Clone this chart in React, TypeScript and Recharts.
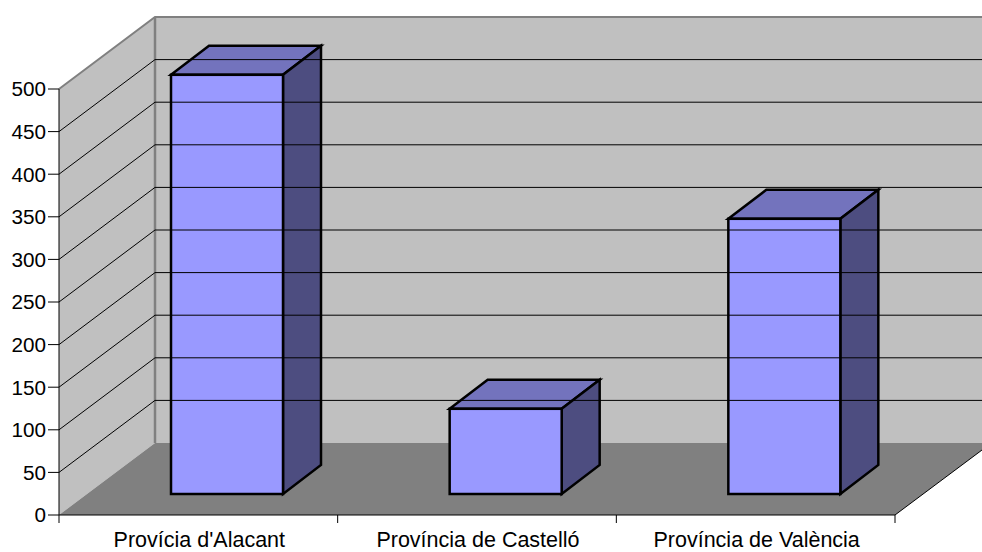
import { BarChart, Bar, XAxis, YAxis, ReferenceArea, ReferenceLine } from "recharts";

const categories = ["Provícia d'Alacant", "Província de Castelló", "Província de València"];
const values = [492, 100, 323];
const yTicks = [0, 50, 100, 150, 200, 250, 300, 350, 400, 450, 500];
const gridTicks = yTicks.slice(1);

const chartData = categories.map((name, i) => ({ name, value: values[i] }));

const WIDTH = 982;
const HEIGHT = 552;
const FONT = "'Liberation Sans', Arial, sans-serif";

// fake 3D projection: how far the back wall sits from the front plane
const WALL_DX = 96;
const WALL_DY = 72;
// bars stand part way into the floor
const BAR_SHIFT_X = 29;
const BAR_SHIFT_Y = 21;
const BAR_DX = 38;
const BAR_DY = 29;

const PLOT_WIDTH = 836;

function Walls({ x, y, width, height }: any) {
    const bottom = y + height;
    const right = x + width;
    return (
        <g>
            <rect x={x + WALL_DX} y={y - WALL_DY} width={WIDTH - x - WALL_DX} height={height} fill="#c0c0c0" />
            <polygon
                points={`${x},${y} ${x + WALL_DX},${y - WALL_DY} ${x + WALL_DX},${bottom - WALL_DY} ${x},${bottom}`}
                fill="#c0c0c0"
            />
            <polygon
                points={`${x},${bottom} ${x + WALL_DX},${bottom - WALL_DY} ${WIDTH},${bottom - WALL_DY} ${WIDTH},${bottom - 65} ${right},${bottom}`}
                fill="#808080"
            />
            <line x1={right} y1={bottom} x2={WIDTH} y2={bottom - 65} stroke="#000" strokeWidth={1} />
            <line
                x1={x + WALL_DX}
                y1={y - WALL_DY}
                x2={x + WALL_DX}
                y2={bottom - WALL_DY}
                stroke="#808080"
                strokeWidth={2.5}
            />
        </g>
    );
}

function WallEdges({ x1, y1 }: { x1: number; y1: number }) {
    return (
        <polyline
            points={`${x1},${y1} ${x1 + WALL_DX},${y1 - WALL_DY} ${WIDTH},${y1 - WALL_DY}`}
            fill="none"
            stroke="#808080"
            strokeWidth={2}
        />
    );
}

function GridLine(props: any) {
    const x1 = props.x1 ?? props.x;
    const y1 = props.y1 ?? props.y;
    return (
        <polyline
            points={`${x1},${y1} ${x1 + WALL_DX},${y1 - WALL_DY} ${WIDTH},${y1 - WALL_DY}`}
            fill="none"
            stroke="#000"
            strokeWidth={1}
        />
    );
}

function Bar3D({ x, y, width, height }: any) {
    const left = x + BAR_SHIFT_X;
    const right = left + width;
    const top = y - BAR_SHIFT_Y;
    const bottom = top + height;
    const stroke = { stroke: "#000", strokeWidth: 2.5, strokeLinejoin: "miter" as const };
    return (
        <g>
            <polygon
                points={`${left},${top} ${left + BAR_DX},${top - BAR_DY} ${right + BAR_DX},${top - BAR_DY} ${right},${top}`}
                fill="#7373bd"
                {...stroke}
            />
            <polygon
                points={`${right},${top} ${right + BAR_DX},${top - BAR_DY} ${right + BAR_DX},${bottom - BAR_DY} ${right},${bottom}`}
                fill="#4d4d80"
                {...stroke}
            />
            <rect x={left} y={top} width={width} height={height} fill="#9999ff" {...stroke} />
        </g>
    );
}

function CategoryTick({ x, y, payload, index }: any) {
    const band = PLOT_WIDTH / categories.length;
    return (
        <g>
            <line x1={x - band / 2} y1={y - 8} x2={x - band / 2} y2={y} stroke="#000" />
            {index === categories.length - 1 && (
                <line x1={x + band / 2} y1={y - 8} x2={x + band / 2} y2={y} stroke="#000" />
            )}
            <text x={x + 1} y={y + 24} textAnchor="middle" fontFamily={FONT} fontSize={21.5} fill="#000">
                {payload.value}
            </text>
        </g>
    );
}

export default function App() {
    return (
        <div style={{ position: "absolute", left: 0, top: 0, width: WIDTH, height: HEIGHT, background: "#fff" }}>
            <BarChart
                width={WIDTH}
                height={HEIGHT}
                data={chartData}
                margin={{ top: 89, right: 87, bottom: 0, left: 0 }}
                barSize={112}
            >
                <XAxis
                    dataKey="name"
                    height={37}
                    tickLine={false}
                    axisLine={{ stroke: "#000" }}
                    tick={CategoryTick}
                    interval={0}
                />
                <YAxis
                    width={59}
                    domain={[0, 500]}
                    ticks={yTicks}
                    interval={0}
                    tickSize={11}
                    tickMargin={2}
                    tickLine={{ stroke: "#000" }}
                    axisLine={{ stroke: "#000" }}
                    tick={{ fill: "#000", fontFamily: FONT, fontSize: 20.7 }}
                />
                <ReferenceArea y1={0} y2={500} shape={Walls} fill="none" stroke="none" />
                {gridTicks.map((t) => (
                    <ReferenceLine key={t} y={t} shape={t === 500 ? (WallEdges as any) : GridLine} />
                ))}
                <Bar dataKey="value" shape={Bar3D} isAnimationActive={false} />
            </BarChart>
        </div>
    );
}
